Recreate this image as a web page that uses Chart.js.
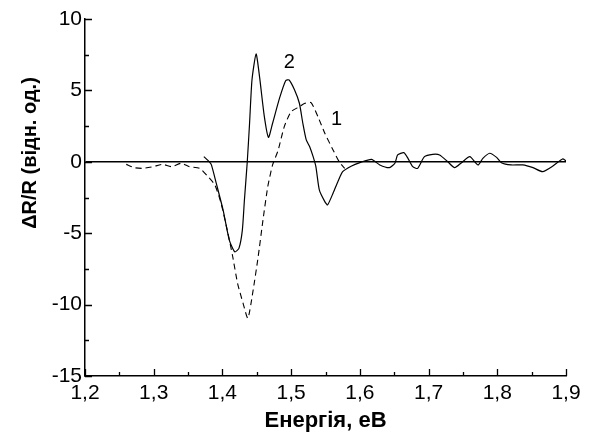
<!DOCTYPE html>
<html>
<head>
<meta charset="utf-8">
<script src="https://cdn.jsdelivr.net/npm/chart.js@4"></script>
<style>
  body { margin: 0; background: #fff; }
  #wrap { width: 590px; height: 435px; }
</style>
</head>
<body>
<div id="wrap"><canvas id="myChart"></canvas></div>
<script>
// крива 1 (штрихова)
const energy1 = [1.260, 1.272, 1.284, 1.299, 1.313, 1.326, 1.340, 1.352, 1.367, 1.379, 1.389, 1.398, 1.408, 1.415, 1.422, 1.430, 1.437, 1.444, 1.452, 1.459, 1.466, 1.473, 1.481, 1.490, 1.500, 1.512, 1.520, 1.529, 1.539, 1.549, 1.561, 1.570, 1.578];
const dR1 = [-0.18, -0.41, -0.46, -0.34, -0.18, -0.34, -0.10, -0.34, -0.46, -1.04, -1.62, -2.9, -5.0, -6.65, -8.5, -9.9, -10.96, -9.2, -6.65, -4.08, -1.74, -0.22, 0.80, 2.46, 3.51, 3.86, 4.10, 4.14, 3.16, 2.0, 0.83, 0.0, -0.46];

// крива 2 (суцільна)
const energy2 = [1.373, 1.381, 1.384, 1.391, 1.401, 1.410, 1.418, 1.424, 1.429, 1.432, 1.436, 1.4395, 1.443, 1.449, 1.454, 1.461, 1.467, 1.473, 1.483, 1.492, 1.497, 1.505, 1.512, 1.517, 1.522, 1.527, 1.532, 1.536, 1.541, 1.549, 1.553, 1.561, 1.568, 1.575, 1.588, 1.600, 1.617, 1.629, 1.643, 1.651, 1.655, 1.664, 1.670, 1.677, 1.684, 1.694, 1.706, 1.716, 1.728, 1.738, 1.748, 1.760, 1.772, 1.779, 1.789, 1.799, 1.806, 1.820, 1.837, 1.852, 1.866, 1.881, 1.895, 1.900];
const dR2 = [0.36, 0.0, -0.22, -1.5, -3.38, -5.48, -6.3, -6.06, -4.78, -2.68, -0.1, 2.7, 5.73, 7.55, 5.96, 3.16, 1.71, 2.7, 4.44, 5.68, 5.73, 5.03, 4.1, 2.7, 1.53, 1.06, 0.36, -0.34, -1.97, -2.79, -3.02, -2.2, -1.39, -0.69, -0.29, -0.06, 0.17, -0.22, -0.41, -0.1, 0.48, 0.64, 0.24, -0.34, -0.46, 0.36, 0.52, 0.48, 0.0, -0.41, -0.06, 0.36, -0.22, 0.24, 0.6, 0.31, -0.06, -0.22, -0.22, -0.41, -0.69, -0.29, 0.2, 0.08];

// підписи кривих
const curveLabels = [
    { text: '2', x: 1.4975, y: 6.95 },
    { text: '1', x: 1.566, y: 2.93 }
];

const xTitle = 'Енергія, еВ';
const yTitle = 'ΔR/R (відн. од.)';

const FONT = '"Liberation Sans", Arial, sans-serif';

function toPoints(xs, ys) {
    return xs.map((x, i) => ({ x: x, y: ys[i] }));
}

function fmt(v) {
    return (Math.round(v * 10) / 10).toFixed(1).replace('.', ',');
}

// внутрішні засічки, підписи кривих та назви осей
const extras = {
    id: 'extras',
    afterDraw(chart) {
        const c = chart.ctx;
        const xs = chart.scales.x;
        const ys = chart.scales.y;
        const area = chart.chartArea;
        c.save();
        c.strokeStyle = '#000';
        c.lineWidth = 1.3;
        c.beginPath();
        for (let i = 0; i <= 14; i++) {
            const px = Math.round(xs.getPixelForValue(1.2 + i * 0.05)) + 0.5;
            const len = i % 2 === 0 ? 7 : 4;
            c.moveTo(px, area.bottom);
            c.lineTo(px, area.bottom - len);
        }
        for (let i = 0; i <= 10; i++) {
            const py = Math.round(ys.getPixelForValue(-15 + i * 2.5)) + 0.5;
            const len = i % 2 === 0 ? 7 : 4;
            c.moveTo(area.left, py);
            c.lineTo(area.left + len, py);
        }
        c.stroke();

        c.fillStyle = '#000';
        c.font = '20px ' + FONT;
        c.textAlign = 'center';
        c.textBaseline = 'middle';
        curveLabels.forEach(l => {
            c.fillText(l.text, xs.getPixelForValue(l.x), ys.getPixelForValue(l.y));
        });

        c.font = 'bold 22px ' + FONT;
        c.fillText(xTitle, (area.left + area.right) / 2, 421);
        c.font = 'bold 20px ' + FONT;
        c.translate(30, 153);
        c.rotate(-Math.PI / 2);
        c.fillText(yTitle, 0, 0);
        c.restore();
    }
};

const ctx = document.getElementById('myChart').getContext('2d');

const data = {
    datasets: [{
        label: '1',
        data: toPoints(energy1, dR1),
        borderColor: '#000',
        borderWidth: 1.1,
        borderDash: [6, 4],
        pointRadius: 0,
        tension: 0.2,
        fill: false
    }, {
        label: '2',
        data: toPoints(energy2, dR2),
        borderColor: '#000',
        borderWidth: 1.2,
        pointRadius: 0,
        tension: 0.2,
        fill: false
    }]
};

const config = {
    type: 'line',
    data: data,
    options: {
        responsive: true,
        maintainAspectRatio: false,
        animation: false,
        layout: {
            padding: { top: 19, right: 24, left: 0, bottom: 0 }
        },
        scales: {
            x: {
                type: 'linear',
                min: 1.2,
                max: 1.9,
                afterFit: s => { s.height = 59; },
                ticks: {
                    stepSize: 0.1,
                    color: '#000',
                    padding: 5,
                    font: { family: FONT, size: 21 },
                    callback: v => fmt(v)
                },
                grid: { display: false, drawTicks: false },
                border: { display: true, color: '#000', width: 1.5 }
            },
            y: {
                min: -15,
                max: 10,
                afterFit: s => { s.width = 85; },
                ticks: {
                    stepSize: 5,
                    color: '#000',
                    padding: 3,
                    font: { family: FONT, size: 21 }
                },
                grid: {
                    display: true,
                    drawTicks: false,
                    color: c => (c.tick && c.tick.value === 0 ? '#000' : 'rgba(0,0,0,0)'),
                    lineWidth: 1.5
                },
                border: { display: true, color: '#000', width: 1.5 }
            }
        },
        plugins: {
            legend: { display: false },
            tooltip: { enabled: false }
        }
    },
    plugins: [extras]
};

const myChart = new Chart(ctx, config);
</script>
</body>
</html>
